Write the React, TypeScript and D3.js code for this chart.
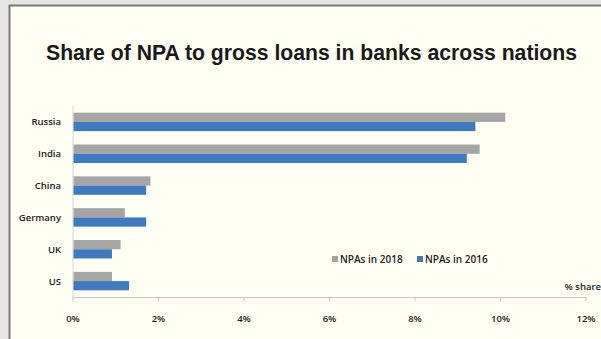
import React from "react";
import * as d3 from "d3";

const categories = ["Russia", "India", "China", "Germany", "UK", "US"];
const npa2018 = [10.1, 9.5, 1.8, 1.2, 1.1, 0.9];
const npa2016 = [9.4, 9.2, 1.7, 1.7, 0.9, 1.3];
const seriesNames = ["NPAs in 2018", "NPAs in 2016"];
const xTicks = [0, 2, 4, 6, 8, 10, 12];

const W = 601;
const H = 339;
const colors = ["#a5a5a5", "#4179bf"];

export default function App() {
  const x = d3.scaleLinear().domain([0, 12]).range([73, 586]);
  const y = d3.scaleBand().domain(categories).range([106, 297]).paddingInner(0.42).paddingOuter(0.21);
  const sub = d3.scaleBand().domain(seriesNames).range([0, y.bandwidth()]);
  const series = [npa2018, npa2016];
  const labelFont = "'Open Sans', 'DejaVu Sans', sans-serif";
  return (
    <svg width={W} height={H} style={{ position: "absolute", left: 0, top: 0 }}>
      <rect x={0} y={0} width={W} height={H} fill="#e5e5e6" />
      <rect x={10} y={6} width={W - 10} height={H - 6} fill="#fefef3" />
      <line x1={9.5} y1={5} x2={9.5} y2={H} stroke="#7a7a7a" strokeWidth={2} />
      <line x1={9} y1={5.5} x2={W} y2={5.5} stroke="#7a7a7a" strokeWidth={2} />
      <text x={311.5} y={60} textAnchor="middle" fontFamily="'Liberation Sans', Arial, sans-serif" fontWeight="bold" fontSize={21.2} fill="#1a1a1a">
        Share of NPA to gross loans in banks across nations
      </text>
      <line x1={x(0)} y1={106} x2={x(0)} y2={297} stroke="#d4d4d8" strokeWidth={1} />
      {categories.map((c, i) => (
        <g key={c}>
          {series.map((s, j) => (
            <rect key={j} x={x(0) + 0.5} y={(y(c) as number) + (sub(seriesNames[j]) as number)} width={x(s[i]) - x(0)} height={sub.bandwidth()} fill={colors[j]} />
          ))}
          <text x={61} y={(y(c) as number) + y.bandwidth() / 2 + 3.5} textAnchor="end" fontFamily={labelFont} fontSize={9.5} fontWeight={600} fill="#222">
            {c}
          </text>
        </g>
      ))}
      <line x1={x(0)} y1={297.5} x2={x(12)} y2={297.5} stroke="#c5c3cc" strokeWidth={1} />
      {xTicks.map((t) => (
        <g key={t}>
          <line x1={x(t)} y1={297} x2={x(t)} y2={301} stroke="#c5c3cc" strokeWidth={1} />
          <text x={x(t)} y={322} textAnchor="middle" fontFamily={labelFont} fontSize={9.5} fontWeight={600} fill="#222">
            {t + "%"}
          </text>
        </g>
      ))}
      <text x={601} y={290} textAnchor="end" fontFamily={labelFont} fontSize={9.5} fontWeight={600} fill="#222">% share</text>
      {seriesNames.map((n, j) => (
        <g key={n} transform={`translate(${332 + j * 85},0)`}>
          <rect x={0} y={256} width={6} height={6} fill={colors[j]} />
          <text x={8} y={263} fontFamily={labelFont} fontSize={10} fontWeight={600} fill="#222">{n}</text>
        </g>
      ))}
    </svg>
  );
}
